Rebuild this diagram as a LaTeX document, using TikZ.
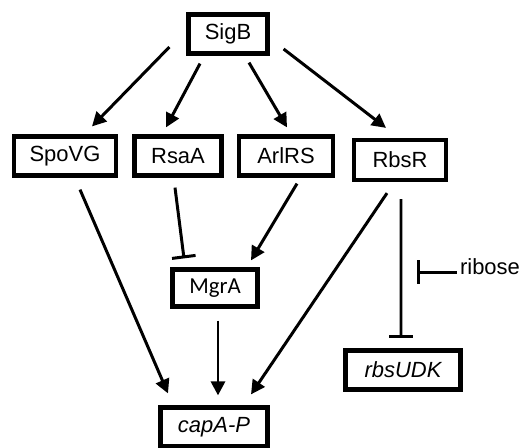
\documentclass[tikz,border=0pt]{standalone}
\usepackage{fontspec}
\setmainfont{Liberation Sans}
\newfontfamily\calibrifont{Carlito}
\usepackage{tikz}
\usetikzlibrary{arrows.meta}
\tikzstyle{gBox} = [rectangle, minimum height=0.78cm, text centered, draw=black, line width=2.4pt, font=\fontsize{12.5}{15}\selectfont]
\tikzstyle{gArrow} = [line width=1.7pt, -{Triangle[length=8pt, width=8pt]}]
\tikzstyle{gInhibit} = [line width=1.7pt, -{Bar[width=13.5pt, line width=1.7pt]}]

\begin{document}
\begin{tikzpicture}[node distance=2.44cm]
    \useasboundingbox (0,0) rectangle (10.5,-8.94);
    \node (sigb) [gBox, minimum width=1.58cm] at (4.56,-0.68) {SigB};
    \node (spovg) [gBox, minimum width=2.04cm, below of=sigb, xshift=-3.26cm] {SpoVG};
    \node (rsaa) [gBox, minimum width=1.74cm, below of=sigb, xshift=-1cm] {RsaA};
    \node (arlrs) [gBox, minimum width=1.88cm, below of=sigb, xshift=1.16cm] {ArlRS};
    \node (rbsr) [gBox, minimum width=1.84cm, minimum height=0.8cm, below of=sigb, xshift=3.44cm, yshift=-0.08cm] {RbsR};
    \node (mgra) [gBox, minimum width=1.70cm, minimum height=0.74cm, below of=rsaa, xshift=0.74cm, yshift=-0.2cm, font=\calibrifont\fontsize{13}{15}\selectfont] {MgrA};
    \node (capap) [gBox, minimum width=2.14cm, below of=mgra, xshift=-0.02cm, yshift=-0.34cm] {\itshape capA-P};
    \node (rbsudk) [gBox, minimum width=2.30cm, below of=rbsr, xshift=0.06cm, yshift=-1.76cm] {\itshape rbsUDK};
    \node (ribose) [right of=rbsr, xshift=-0.64cm, yshift=-2.14cm, inner sep=0pt, font=\fontsize{12.5}{15}\selectfont] {ribose};
    \coordinate (riboseend) at ([xshift=-0.86cm, yshift=-0.1cm]ribose.west);

    \draw [gArrow] ([xshift=-0.34cm, yshift=-0.26cm]sigb.west) -- ([xshift=0.54cm, yshift=0.16cm]spovg.north);
    \draw [gArrow] ([xshift=-0.56cm, yshift=-0.16cm]sigb.south) -- ([xshift=-0.24cm, yshift=0.14cm]rsaa.north);
    \draw [gArrow] ([xshift=0.42cm, yshift=-0.14cm]sigb.south) -- ([xshift=0.02cm, yshift=0.14cm]arlrs.north);
    \draw [gArrow] ([xshift=0.28cm, yshift=-0.30cm]sigb.east) -- ([xshift=-0.28cm, yshift=0.2cm]rbsr.north);
    \draw [gArrow] ([xshift=0.30cm, yshift=-0.24cm]spovg.south) -- ([xshift=-0.92cm, yshift=0.24cm]capap.north);
    \draw [gInhibit] ([xshift=-0.06cm, yshift=-0.20cm]rsaa.south) -- ([xshift=-0.62cm, yshift=0.18cm]mgra.north);
    \draw [gArrow] ([xshift=0.22cm, yshift=-0.12cm]arlrs.south) -- ([xshift=0.72cm, yshift=0.14cm]mgra.north);
    \draw [gArrow] ([xshift=0.06cm, yshift=-0.24cm]mgra.south) -- ([xshift=0.08cm, yshift=0.20cm]capap.north);
    \draw [gArrow] ([xshift=-0.26cm, yshift=-0.22cm]rbsr.south) -- ([xshift=0.74cm, yshift=0.22cm]capap.north);
    \draw [gInhibit] ([xshift=0.02cm, yshift=-0.34cm]rbsr.south) -- ([xshift=-0.04cm, yshift=0.20cm]rbsudk.north);
    \draw [gInhibit] ([xshift=-0.06cm, yshift=-0.1cm]ribose.west) -- (riboseend);
\end{tikzpicture}
\end{document}
